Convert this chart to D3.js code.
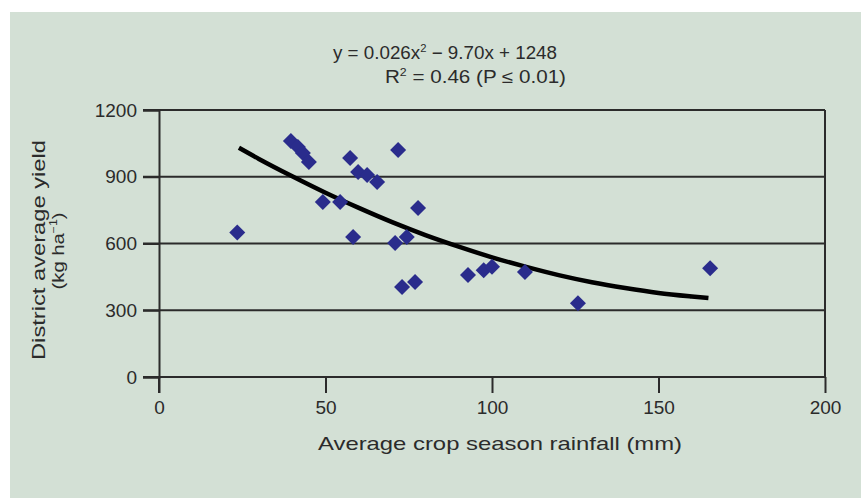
<!DOCTYPE html>
<html>
<head>
<meta charset="utf-8">
<script src="https://cdn.jsdelivr.net/npm/d3@7"></script>
<style>
  html, body { margin: 0; padding: 0; background: #ffffff; }
  svg { display: block; }
  text { font-family: "Liberation Sans", Arial, Helvetica, sans-serif; fill: #2b2b2b; }
</style>
</head>
<body>
<svg id="chart" width="861" height="498"></svg>
<script>
// ---- data ----
const rainfall = [23.5, 39.6, 41.7, 43.2, 45.0, 49.2, 54.4, 58.3, 57.4, 59.8, 62.5, 65.5, 71.8, 70.9, 74.4, 77.8, 73.0, 76.9, 92.8, 97.5, 100.0, 109.9, 125.8, 165.5];
const yieldVals = [650, 1061, 1034, 1007, 966, 787, 787, 629, 984, 921, 908, 876, 1020, 602, 629, 760, 404, 427, 458, 480, 495, 472, 332, 489];
// fitted trend line points
const trendX = [24, 30, 40, 50, 60, 70, 80, 90, 100, 110, 120, 130, 140, 150, 160, 165];
const trendY = [1030, 980, 902, 828, 760, 696, 638, 586, 538, 496, 458, 426, 400, 378, 362, 355];
const xTicks = [0, 50, 100, 150, 200];
const yTicks = [0, 300, 600, 900, 1200];
const titleLine1 = ["y = 0.026x", "2", " \u2212 9.70x + 1248"];
const titleLine2 = ["R", "2", " = 0.46 (P \u2264 0.01)"];
const xTitle = "Average crop season rainfall (mm)";
const yTitle1 = "District average yield";
const yTitle2 = ["(kg ha", "\u22121", ")"];

const svg = d3.select("#chart");
const ink = "#2b2b2b";

// background panel
svg.append("rect").attr("x", 10).attr("y", 12).attr("width", 851).attr("height", 486).attr("fill", "#d3e0d5");

const x = d3.scaleLinear().domain([0, 200]).range([159, 825]);
const y = d3.scaleLinear().domain([0, 1200]).range([377, 110]);

// horizontal gridlines (with left tick extension)
svg.append("g").selectAll("line").data(yTicks).join("line")
  .attr("x1", x(0) - 16).attr("x2", x(200))
  .attr("y1", d => y(d)).attr("y2", d => y(d))
  .attr("stroke", ink).attr("stroke-width", 2);

// right border
svg.append("line").attr("x1", x(200)).attr("x2", x(200)).attr("y1", y(1200)).attr("y2", y(0))
  .attr("stroke", ink).attr("stroke-width", 2);

// y axis
const yAxis = d3.axisLeft(y).tickValues(yTicks).tickFormat(d3.format("d")).tickSize(16).tickPadding(6);
const gy = svg.append("g").attr("transform", `translate(${x(0)},0)`).call(yAxis);
gy.select(".domain").attr("stroke", ink).attr("stroke-width", 2);
gy.selectAll(".tick line").attr("stroke", ink).attr("stroke-width", 2);
gy.selectAll(".tick text").attr("font-size", 19).attr("fill", ink)
  .style("font-family", "'Liberation Sans', Arial, sans-serif");

// x axis
const xAxis = d3.axisBottom(x).tickValues(xTicks).tickFormat(d3.format("d")).tickSize(16).tickPadding(8);
const gx = svg.append("g").attr("transform", `translate(0,${y(0)})`).call(xAxis);
gx.select(".domain").remove();
gx.selectAll(".tick line").attr("stroke", ink).attr("stroke-width", 2);
gx.selectAll(".tick text").attr("font-size", 19).attr("fill", ink)
  .style("font-family", "'Liberation Sans', Arial, sans-serif");
// vertical axis extension below zero
svg.append("line").attr("x1", x(0)).attr("x2", x(0)).attr("y1", y(0)).attr("y2", y(0) + 16)
  .attr("stroke", ink).attr("stroke-width", 2);

// trend line
const line = d3.line().x(d => x(d[0])).y(d => y(d[1])).curve(d3.curveMonotoneX);
svg.append("path").datum(d3.zip(trendX, trendY))
  .attr("d", line).attr("fill", "none").attr("stroke", "#000").attr("stroke-width", 4.5);

// points (diamonds)
const r = 8;
svg.append("g").selectAll("path").data(d3.zip(rainfall, yieldVals)).join("path")
  .attr("d", d => {
    const cx = x(d[0]), cy = y(d[1]);
    return `M${cx},${cy - r}L${cx + r},${cy}L${cx},${cy + r}L${cx - r},${cy}Z`;
  })
  .attr("fill", "#2a2c8c");

// titles
function richText(g, parts, opts) {
  const t = g.append("text").attr("x", opts.x).attr("y", opts.y)
    .attr("font-size", opts.size).attr("text-anchor", opts.anchor || "start");
  if (opts.len) t.attr("textLength", opts.len).attr("lengthAdjust", "spacingAndGlyphs");
  if (opts.transform) t.attr("transform", opts.transform);
  parts.forEach((p, i) => {
    const ts = t.append("tspan").text(p);
    if (i === 1) ts.attr("font-size", opts.size * 0.6).attr("dy", -opts.size * 0.4);
    if (i === 2) ts.attr("dy", opts.size * 0.4);
  });
  return t;
}
richText(svg, titleLine1, {x: 333, y: 59, size: 18, len: 224});
richText(svg, titleLine2, {x: 385, y: 83, size: 18, len: 181});

svg.append("text").attr("x", 500).attr("y", 450).attr("text-anchor", "middle")
  .attr("font-size", 19).attr("textLength", 364).attr("lengthAdjust", "spacingAndGlyphs")
  .text(xTitle);

svg.append("text").attr("transform", "translate(45,250) rotate(-90)").attr("text-anchor", "middle")
  .attr("font-size", 18).attr("textLength", 220).attr("lengthAdjust", "spacingAndGlyphs")
  .text(yTitle1);
richText(svg, yTitle2, {x: 0, y: 0, size: 17, anchor: "middle", len: 77, transform: "translate(64,251) rotate(-90)"});
</script>
</body>
</html>
